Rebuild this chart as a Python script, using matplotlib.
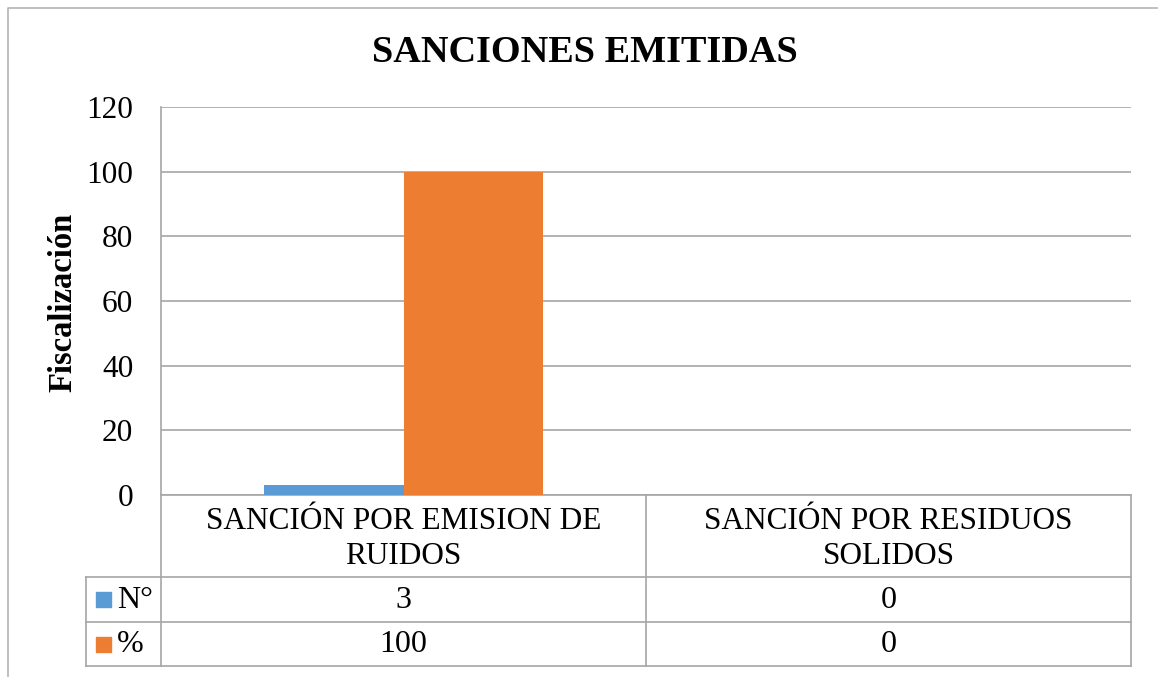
import matplotlib.pyplot as plt
from matplotlib.transforms import blended_transform_factory
from matplotlib.patches import Rectangle

# data
categories = ["SANCIÓN POR EMISION DE\nRUIDOS", "SANCIÓN POR RESIDUOS\nSOLIDOS"]
series_names = ["N°", "%"]
n_values = [3, 0]
pct_values = [100, 0]
colors = ["#5B9BD5", "#ED7D31"]
yticks = [0, 20, 40, 60, 80, 100, 120]

plt.rcParams['font.family'] = ['Liberation Serif', 'DejaVu Serif']
W, H = 1158, 677
fig = plt.figure(figsize=(W / 100, H / 100), dpi=100)

# overlay in pixel coords (y down)
ov = fig.add_axes([0, 0, 1, 1])
ov.set_xlim(0, W)
ov.set_ylim(H, 0)
ov.axis('off')
ov.set_zorder(-1)

grid_c = '#A6A6A6'
# outer chart frame (cropped at right/bottom)
ov.plot([8, 8, W], [H, 8, 8], color='#B4B4B4', lw=1.2)

# plot area
left, right, top, bottom = 161, 1131, 107, 495
ax = fig.add_axes([left / W, 1 - bottom / H, (right - left) / W, (bottom - top) / H])
ax.set_xlim(-0.5, len(categories) - 0.5)
ax.set_ylim(0, 120)
ax.set_yticks(yticks)
ax.set_xticks([])
ax.tick_params(axis='y', length=0, labelsize=22.5, pad=20)
ax.grid(axis='y', color=grid_c, lw=1.2)
ax.set_axisbelow(True)
for s in ['top', 'right']:
    ax.spines[s].set_visible(False)
for s in ['left', 'bottom']:
    ax.spines[s].set_color(grid_c)
    ax.spines[s].set_linewidth(1.2)
ax.patch.set_alpha(0)

bw = 0.287
xs = list(range(len(categories)))
ax.bar([x - bw / 2 for x in xs], n_values, width=bw, color=colors[0], zorder=3)
ax.bar([x + bw / 2 for x in xs], pct_values, width=bw, color=colors[1], zorder=3)

fig.text(585 / W, 1 - 52 / H, "SANCIONES EMITIDAS", fontsize=27.5, fontweight='bold',
         ha='center', va='center')
fig.text(63 / W, 1 - 302 / H, "Fiscalización", rotation=90, fontsize=23.5,
         fontweight='bold', ha='center', va='center')

# data table below the axis
tr = blended_transform_factory(ax.transData, ov.transData)
row_y = [495, 577, 622, 666]
edges = [x - 0.5 for x in xs] + [xs[-1] + 0.5]
for e in edges:
    ov.plot([e, e], [row_y[0], row_y[-1]], color=grid_c, lw=1.2, transform=tr)
for y in row_y[1:]:
    ov.plot([86, right], [y, y], color=grid_c, lw=1.2)
ov.plot([86, 86], [row_y[1], row_y[-1]], color=grid_c, lw=1.2)

for x, c in zip(xs, categories):
    ov.text(x, 539, c, transform=tr, ha='center', va='center',
            fontsize=22.5, linespacing=1.26)
for i, (name, vals) in enumerate(zip(series_names, [n_values, pct_values])):
    yc = (row_y[i + 1] + row_y[i + 2]) / 2
    ov.add_patch(Rectangle((96, yc - 7.5), 15, 15, color=colors[i]))
    ov.text(117, yc + 1, name, ha='left', va='center', fontsize=23)
    for x, v in zip(xs, vals):
        ov.text(x, yc + 1, str(v), transform=tr, ha='center', va='center', fontsize=23)

fig.savefig('out.png', dpi=100)
